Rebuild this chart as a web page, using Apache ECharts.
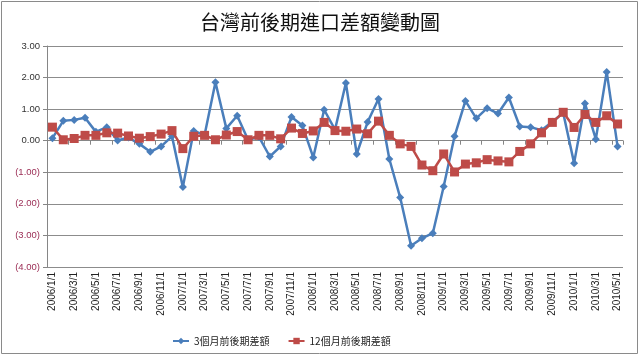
<!DOCTYPE html>
<html><head><meta charset="utf-8">
<script src="https://cdn.jsdelivr.net/npm/echarts@6/dist/echarts.min.js"></script>
<style>html,body{margin:0;padding:0;background:#fff}#c{width:640px;height:356px}</style>
</head><body><div id="c"></div>
<script>
var categories = ["2006/1/1","2006/2/1","2006/3/1","2006/4/1","2006/5/1","2006/6/1","2006/7/1","2006/8/1","2006/9/1","2006/10/1","2006/11/1","2006/12/1",
"2007/1/1","2007/2/1","2007/3/1","2007/4/1","2007/5/1","2007/6/1","2007/7/1","2007/8/1","2007/9/1","2007/10/1","2007/11/1","2007/12/1",
"2008/1/1","2008/2/1","2008/3/1","2008/4/1","2008/5/1","2008/6/1","2008/7/1","2008/8/1","2008/9/1","2008/10/1","2008/11/1","2008/12/1",
"2009/1/1","2009/2/1","2009/3/1","2009/4/1","2009/5/1","2009/6/1","2009/7/1","2009/8/1","2009/9/1","2009/10/1","2009/11/1","2009/12/1",
"2010/1/1","2010/2/1","2010/3/1","2010/4/1","2010/5/1"];
var seriesNames = ["3個月前後期差額","12個月前後期差額"];
var threeMonth = [0.08,0.63,0.66,0.73,0.28,0.43,0.01,0.10,-0.10,-0.35,-0.18,0.14,
-1.47,0.31,0.18,1.85,0.39,0.79,0.03,0.12,-0.50,-0.18,0.75,0.48,
-0.53,0.98,0.35,1.83,-0.42,0.59,1.32,-0.58,-1.80,-3.33,-3.09,-2.93,
-1.45,0.14,1.26,0.71,1.03,0.86,1.37,0.45,0.43,0.33,0.60,0.88,
-0.71,1.18,0.05,2.18,-0.18];
var twelveMonth = [0.43,0.03,0.07,0.17,0.17,0.25,0.24,0.15,0.08,0.13,0.21,0.32,
-0.25,0.14,0.17,0.03,0.18,0.29,0.03,0.17,0.17,0.06,0.40,0.23,
0.31,0.58,0.32,0.30,0.37,0.22,0.62,0.17,-0.10,-0.18,-0.77,-0.95,
-0.42,-0.99,-0.74,-0.70,-0.60,-0.64,-0.67,-0.34,-0.10,0.25,0.58,0.90,
0.42,0.83,0.58,0.79,0.53];
var yTicks = {min:-4, max:3, interval:1};

var font = '"Noto Sans CJK TC", "Noto Sans", sans-serif';
var chart = echarts.init(document.getElementById('c'), null, {renderer:'canvas'});
chart.setOption({
  animation:false,
  backgroundColor:'#fff',
  title:{text:'台灣前後期進口差額變動圖', left:'center', top:7,
    textStyle:{fontFamily:font, fontSize:20, fontWeight:'normal', color:'#111'}},
  graphic:[{type:'rect', shape:{x:1.5,y:1.5,width:636,height:352},
    style:{fill:'none', stroke:'#8a8a8a', lineWidth:1}, silent:true, z:-1}],
  legend:{left:167, top:331, itemWidth:16, itemHeight:8, itemGap:18,
    textStyle:{fontFamily:font, fontSize:10, color:'#222'},
    data:seriesNames},
  grid:{left:47, right:17, top:46, bottom:89, containLabel:false},
  xAxis:[{
    type:'category', data:categories, boundaryGap:true, position:'bottom',
    axisLine:{show:false, onZero:false},
    axisTick:{show:false},
    axisLabel:{interval:1, rotate:90, fontFamily:'"Liberation Sans", Arial, sans-serif', fontSize:10, color:'#222', margin:5},
    splitLine:{show:false}
  },{
    type:'category', data:categories, boundaryGap:true, position:'bottom',
    axisLine:{show:true, onZero:true, lineStyle:{color:'#868686', width:1}},
    axisTick:{show:true, interval:1, length:4, inside:false, lineStyle:{color:'#868686'}},
    axisLabel:{show:false},
    splitLine:{show:false}
  }],
  yAxis:{type:'value', min:yTicks.min, max:yTicks.max, interval:yTicks.interval,
    axisLine:{show:true, lineStyle:{color:'#868686'}},
    axisTick:{show:true, length:4, lineStyle:{color:'#868686'}},
    splitLine:{show:true, lineStyle:{color:'#8c8c8c', width:1}},
    axisLabel:{fontFamily:'"Liberation Sans", Arial, sans-serif', fontSize:9.5, margin:7,
      color:function(v){ return Number(v) < 0 ? '#9b2d55' : '#333'; },
      formatter:function(v){ var s=Math.abs(v).toFixed(2); return v<0?'('+s+')':s; }}
  },
  series:[{
    name:seriesNames[0], type:'line', data:threeMonth, xAxisIndex:0,
    symbol:'diamond', symbolSize:8, showAllSymbol:true,
    lineStyle:{color:'#4a7ebb', width:2.5}, itemStyle:{color:'#4a7ebb'}, z:3
  },{
    name:seriesNames[1], type:'line', data:twelveMonth, xAxisIndex:0,
    symbol:'rect', symbolSize:9, showAllSymbol:true,
    lineStyle:{color:'#be4b48', width:2.5}, itemStyle:{color:'#be4b48'}, z:4
  }]
});
</script></body></html>
